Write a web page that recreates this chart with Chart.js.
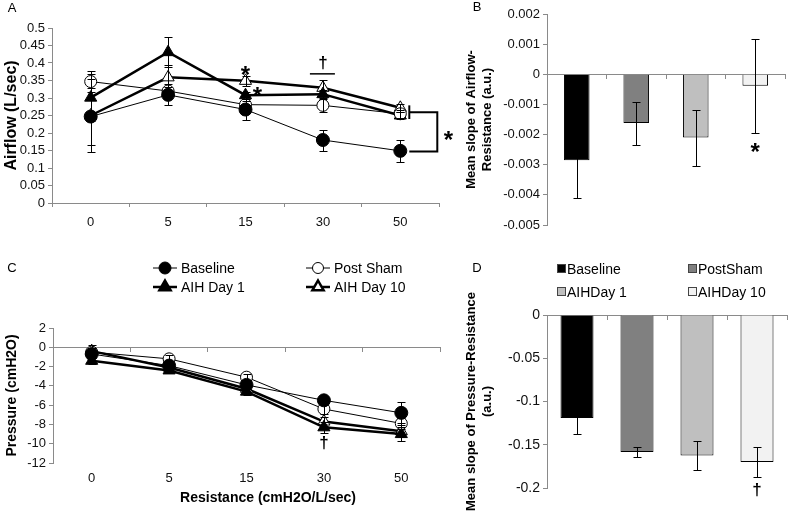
<!DOCTYPE html>
<html><head><meta charset="utf-8">
<script src="https://cdn.jsdelivr.net/npm/chart.js@4.4.1/dist/chart.umd.min.js"></script>
<style>
html,body{margin:0;padding:0;background:#fff;}
#wrap{position:relative;width:790px;height:514px;overflow:hidden;background:#fff;}
canvas{position:absolute;}
</style></head><body>
<div id="wrap">
<canvas id="cA" width="455" height="250" style="left:0;top:0"></canvas>
<canvas id="cB" width="335" height="250" style="left:455px;top:0"></canvas>
<canvas id="cC" width="455" height="264" style="left:0;top:250px"></canvas>
<canvas id="cD" width="335" height="264" style="left:455px;top:250px"></canvas>
</div>
<script>
// ---------- data ----------
const resistance = ['0','5','15','30','50'];
const seriesNames = ['Baseline','Post Sham','AIH Day 1','AIH Day 10'];
const barNames = ['Baseline','PostSham','AIHDay 1','AIHDay 10'];

const airflowBaseline = [0.247,0.309,0.267,0.180,0.149];
const airflowPostSham = [0.347,0.320,0.281,0.279,0.255];
const airflowAIH1     = [0.301,0.431,0.308,0.311,0.250];
const airflowAIH10    = [0.250,0.359,0.349,0.329,0.272];
const airflowBaselineErr = [0.081,0.030,0.030,0.030,0.032];
const airflowPostShamErr = [0.031,0.012,0.010,0.018,0.012];
const airflowAIH1Err     = [0.067,0.043,0.010,0.012,0.010];
const airflowAIH10Err    = [0.105,0.035,0.014,0.023,0.011];
const airflowTicks = [0,0.05,0.1,0.15,0.2,0.25,0.3,0.35,0.4,0.45,0.5];

const pressureBaseline = [-0.7,-1.9,-3.9,-5.5,-6.8];
const pressurePostSham = [-0.5,-1.2,-3.1,-6.4,-7.9];
const pressureAIH1     = [-1.4,-2.4,-4.6,-8.3,-9.0];
const pressureAIH10    = [-0.4,-2.1,-4.3,-7.7,-8.7];
const pressureBaselineErr = [0.4,0.3,0.4,0.3,1.1];
const pressurePostShamErr = [0.4,0.4,0.3,0.5,0.6];
const pressureAIH1Err     = [0.3,0.3,0.3,0.6,0.7];
const pressureAIH10Err    = [0.6,0.3,0.3,0.5,0.6];
const pressureTicks = [-12,-10,-8,-6,-4,-2,0,2];

const slopeAirflow    = [-0.00285,-0.00162,-0.00210,-0.00038];
const slopeAirflowErr = [0.00126,0.00071,0.00093,0.00156];
const slopeAirflowTicks = [-0.005,-0.004,-0.003,-0.002,-0.001,0,0.001,0.002];

const slopePressure    = [-0.119,-0.1585,-0.1625,-0.170];
const slopePressureErr = [0.018,0.0055,0.017,0.0175];
const slopePressureTicks = [-0.2,-0.15,-0.1,-0.05,0];

// ---------- style ----------
const FONT = "'Liberation Sans', Arial, Helvetica, sans-serif";
const AX = '#8a8a8a';
const TXT = '#111';
const barFills = ['#000000','#808080','#bfbfbf','#f2f2f2'];
Chart.defaults.font.family = FONT;
Chart.defaults.color = TXT;

const lineStyles = [
  {pointStyle:'circle',   pointRadius:6.5, pointBackgroundColor:'#000', borderWidth:1},
  {pointStyle:'circle',   pointRadius:6,   pointBackgroundColor:'#fff', borderWidth:1},
  {pointStyle:'triangle', pointRadius:7,   pointBackgroundColor:'#000', borderWidth:2.5},
  {pointStyle:'triangle', pointRadius:7,   pointBackgroundColor:'#fff', borderWidth:2.5}
];
function lineSets(vals){
  return vals.map((d,i)=>Object.assign({
    label: seriesNames[i], data: d, borderColor:'#000', pointBorderColor:'#000',
    pointBorderWidth:1, tension:0, fill:false, pointHoverRadius:6
  }, lineStyles[i]));
}

// ---------- plugins ----------
function errorBars(errs, cap){
  return {id:'errorBars', afterDatasetsDraw(chart){
    const ctx = chart.ctx, ys = chart.scales.y;
    ctx.save(); ctx.strokeStyle = '#000'; ctx.lineWidth = 1;
    chart.data.datasets.forEach((ds,i)=>{
      const meta = chart.getDatasetMeta(i);
      meta.data.forEach((el,j)=>{
        const e = errs[i][j]; if(!e) return;
        const v = ds.data[j];
        const x = Math.round(el.x)+0.5;
        const y1 = Math.round(ys.getPixelForValue(v+e))+0.5;
        const y2 = Math.round(ys.getPixelForValue(v-e))+0.5;
        ctx.beginPath();
        ctx.moveTo(x,y1); ctx.lineTo(x,y2);
        ctx.moveTo(x-cap,y1); ctx.lineTo(x+cap,y1);
        ctx.moveTo(x-cap,y2); ctx.lineTo(x+cap,y2);
        ctx.stroke();
      });
    });
    ctx.restore();
  }};
}
// marks positioned through the chart's own scales (category index + value)
function marks(items){
  return {id:'marks', afterDatasetsDraw(chart){
    const ctx = chart.ctx, xs = chart.scales.x, ys = chart.scales.y;
    ctx.save(); ctx.fillStyle = '#000'; ctx.strokeStyle = '#000';
    items.forEach(it=>{
      if(it.path){
        ctx.lineWidth = it.width || 1;
        ctx.beginPath();
        it.path.forEach((p,k)=>{
          const x = xs.getPixelForValue(p[0]) + p[1];
          const y = ys.getPixelForValue(p[2]);
          if(k===0) ctx.moveTo(x,y); else ctx.lineTo(x,y);
        });
        ctx.stroke();
      } else {
        ctx.font = 'bold '+it.size+'px '+FONT;
        ctx.textAlign = 'center'; ctx.textBaseline = 'alphabetic';
        const x = xs.getPixelForValue(it.cat) + (it.dx||0);
        const y = ys.getPixelForValue(it.val) + it.vc*it.size;
        ctx.fillText(it.text, x, y);
      }
    });
    ctx.restore();
  }};
}
function texts(list){
  return {id:'texts', afterDraw(chart){
    const ctx = chart.ctx;
    ctx.save(); ctx.fillStyle = '#000'; ctx.textBaseline = 'middle';
    list.forEach(t=>{
      ctx.font = (t.bold?'bold ':'')+t.size+'px '+FONT;
      ctx.textAlign = t.align || 'left';
      ctx.fillText(t.text, t.x, t.y);
    });
    ctx.restore();
  }};
}
function lineLegend(pos){
  return {id:'lineLegend', afterDraw(chart){
    const ctx = chart.ctx;
    ctx.save();
    chart.data.datasets.forEach((ds,i)=>{
      const [x,y] = pos[i];
      ctx.strokeStyle = '#000'; ctx.lineWidth = ds.borderWidth;
      ctx.beginPath(); ctx.moveTo(x-12,y); ctx.lineTo(x+12,y); ctx.stroke();
      ctx.fillStyle = ds.pointBackgroundColor; ctx.strokeStyle = '#000';
      Chart.helpers.drawPoint(ctx, {pointStyle:ds.pointStyle, radius:ds.pointRadius-0.5, borderWidth:1, rotation:0}, x, y);
      ctx.fillStyle = '#000'; ctx.font = '14px '+FONT; ctx.textAlign='left'; ctx.textBaseline='middle';
      ctx.fillText(ds.label, x+16, y+1);
    });
    ctx.restore();
  }};
}
function barLegend(pos){
  return {id:'barLegend', afterDraw(chart){
    const ctx = chart.ctx;
    ctx.save();
    barNames.forEach((n,i)=>{
      const [x,y] = pos[i];
      ctx.fillStyle = barFills[i]; ctx.fillRect(x+0.5,y-4.5,8,8);
      ctx.strokeStyle = '#444'; ctx.lineWidth = 1; ctx.strokeRect(x+0.5,y-4.5,8,8);
      ctx.fillStyle = '#000'; ctx.font = '14px '+FONT; ctx.textAlign='left'; ctx.textBaseline='middle';
      ctx.fillText(n, x+10, y+1);
    });
    ctx.restore();
  }};
}

function yAxis(min,max,tickVals,width,title,titleSize,titlePad,tickSize){
  return {
    min:min, max:max,
    afterBuildTicks(s){ s.ticks = tickVals.map(v=>({value:v})); },
    ticks:{callback:v=>String(v), font:{size:tickSize}, color:TXT, padding:3, autoSkip:false},
    grid:{display:true, drawOnChartArea:false, drawTicks:true, tickLength:4, color:AX},
    border:{display:true, color:AX, width:1},
    title:{display:true, text:title, font:{size:titleSize, weight:'bold', lineHeight:1.2}, color:'#000', padding:{top:titlePad,bottom:0}},
    afterFit(s){ s.width = width; }
  };
}
const baseOpts = {responsive:false, animation:false, devicePixelRatio:1, events:[]};

// ---------- Panel A ----------
new Chart(document.getElementById('cA'), {
  type:'line',
  data:{labels:resistance, datasets:lineSets([airflowBaseline,airflowPostSham,airflowAIH1,airflowAIH10])},
  options:Object.assign({}, baseOpts, {
    layout:{padding:{top:28,right:16,left:0,bottom:0}},
    plugins:{legend:{display:false}, tooltip:{enabled:false}},
    scales:{
      x:{type:'category', offset:true,
         grid:{display:true, drawOnChartArea:false, drawTicks:true, tickLength:4, offset:true, color:AX},
         border:{display:true, color:AX},
         ticks:{font:{size:13}, color:TXT, padding:8, maxRotation:0, autoSkip:false},
         afterFit(s){ s.height = 47; }},
      y:yAxis(0,0.5,airflowTicks,52,'Airflow (L/sec)',16,2,13)
    }
  }),
  plugins:[
    errorBars([airflowBaselineErr,airflowPostShamErr,airflowAIH1Err,airflowAIH10Err],4),
    marks([
      {text:'*', cat:2, val:0.38, size:24, vc:0.55},
      {text:'*', cat:2, dx:12, val:0.321, size:24, vc:0.55},
      {text:'†', cat:3, val:0.40, size:17, vc:0.3},
      {path:[[3,-13,0.369],[3,12,0.369]], width:1.5},
      {path:[[4,9,0.279],[4,9,0.240]], width:2},
      {path:[[4,9,0.259],[4,37,0.259],[4,37,0.147],[4,9,0.147]], width:2},
      {text:'*', cat:4, dx:48, val:0.194, size:24, vc:0.55}
    ]),
    texts([{text:'A', x:12, y:8, size:13, align:'center'}])
  ]
});

// ---------- Panel B ----------
new Chart(document.getElementById('cB'), {
  type:'bar',
  data:{labels:barNames, datasets:[{label:'Mean slope of Airflow-Resistance', data:slopeAirflow,
    backgroundColor:barFills, borderColor:'#000', borderWidth:1, barPercentage:0.43, categoryPercentage:1}]},
  options:Object.assign({}, baseOpts, {
    layout:{padding:{top:14,right:5,left:0,bottom:25}},
    plugins:{legend:{display:false}, tooltip:{enabled:false}},
    scales:{
      x:{type:'category', offset:true, position:{y:0},
         grid:{display:true, drawOnChartArea:false, drawTicks:true, tickLength:4, offset:true, color:AX},
         border:{display:true, color:AX}, ticks:{display:false}},
      y:yAxis(-0.005,0.002,slopeAirflowTicks,92,['Mean slope of Airflow-','Resistance (a.u.)'],13,9,13)
    }
  }),
  plugins:[
    errorBars([slopeAirflowErr],4),
    marks([{text:'*', cat:3, val:-0.0024, size:24, vc:0.55}]),
    texts([{text:'B', x:22, y:7, size:13, align:'center'}])
  ]
});

// ---------- Panel C ----------
new Chart(document.getElementById('cC'), {
  type:'line',
  data:{labels:resistance, datasets:lineSets([pressureBaseline,pressurePostSham,pressureAIH1,pressureAIH10])},
  options:Object.assign({}, baseOpts, {
    layout:{padding:{top:78,right:15,left:0,bottom:0}},
    plugins:{legend:{display:false}, tooltip:{enabled:false}},
    scales:{
      x:{type:'category', offset:true,
         grid:{display:false, drawTicks:false}, border:{display:false},
         ticks:{font:{size:13}, color:TXT, padding:8, maxRotation:0, autoSkip:false},
         afterFit(s){ s.height = 51; }},
      x2:{type:'category', axis:'x', offset:true, position:{y:0},
         grid:{display:true, drawOnChartArea:false, drawTicks:true, tickLength:4, offset:true, color:AX},
         border:{display:true, color:AX}, ticks:{display:false}},
      y:yAxis(-12,2,pressureTicks,53,'Pressure (cmH2O)',14,4,13)
    }
  }),
  plugins:[
    errorBars([pressureBaselineErr,pressurePostShamErr,pressureAIH1Err,pressureAIH10Err],4),
    marks([{text:'†', cat:3, val:-9.9, size:17, vc:0.3}]),
    lineLegend([[165,18],[318,18],[165,37],[318,37]]),
    texts([{text:'C', x:12, y:18, size:13, align:'center'},
           {text:'Resistance (cmH2O/L/sec)', x:268, y:248, size:14, bold:true, align:'center'}])
  ]
});

// ---------- Panel D ----------
new Chart(document.getElementById('cD'), {
  type:'bar',
  data:{labels:barNames, datasets:[{label:'Mean slope of Pressure-Resistance', data:slopePressure,
    backgroundColor:barFills, borderColor:'#000', borderWidth:1, barPercentage:0.55, categoryPercentage:1}]},
  options:Object.assign({}, baseOpts, {
    layout:{padding:{top:65,right:3,left:0,bottom:26}},
    plugins:{legend:{display:false}, tooltip:{enabled:false}},
    scales:{
      x:{type:'category', offset:true, position:{y:0},
         grid:{display:true, drawOnChartArea:false, drawTicks:true, tickLength:4, offset:true, color:AX},
         border:{display:true, color:AX}, ticks:{display:false}},
      y:yAxis(-0.2,0,slopePressureTicks,92,['Mean slope of Pressure-Resistance','(a.u.)'],13,9,14)
    }
  }),
  plugins:[
    errorBars([slopePressureErr],4),
    marks([{text:'†', cat:3, val:-0.202, size:17, vc:0.3}]),
    barLegend([[102,19],[233,19],[102,42],[233,42]]),
    texts([{text:'D', x:22, y:18, size:13, align:'center'}])
  ]
});
</script>
</body></html>
